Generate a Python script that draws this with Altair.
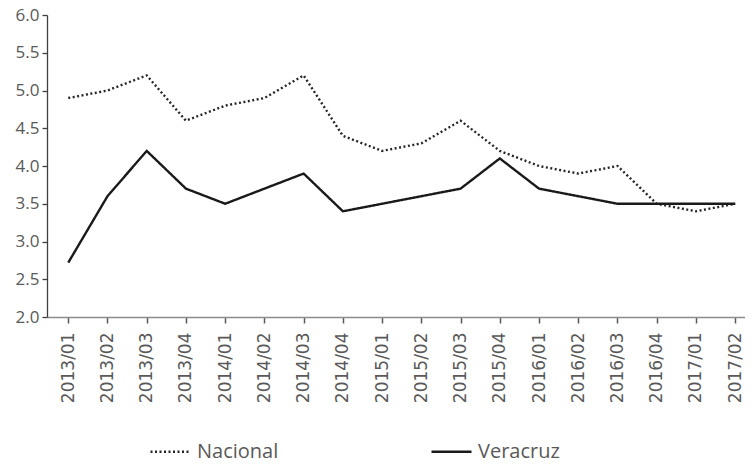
import altair as alt
import pandas as pd

periods = ["2013/01", "2013/02", "2013/03", "2013/04", "2014/01", "2014/02",
           "2014/03", "2014/04", "2015/01", "2015/02", "2015/03", "2015/04",
           "2016/01", "2016/02", "2016/03", "2016/04", "2017/01", "2017/02"]
nacional = [4.9, 5.0, 5.2, 4.6, 4.8, 4.9, 5.2, 4.4, 4.2, 4.3, 4.6, 4.2,
            4.0, 3.9, 4.0, 3.5, 3.4, 3.5]
veracruz = [2.72, 3.6, 4.2, 3.7, 3.5, 3.7, 3.9, 3.4, 3.5, 3.6, 3.7, 4.1,
            3.7, 3.6, 3.5, 3.5, 3.5, 3.5]
series_names = ["Nacional", "Veracruz"]
y_ticks = [2.0, 2.5, 3.0, 3.5, 4.0, 4.5, 5.0, 5.5, 6.0]

rows = []
for i, p in enumerate(periods):
    rows.append({"idx": i, "periodo": p, "serie": "Nacional", "valor": nacional[i]})
    rows.append({"idx": i, "periodo": p, "serie": "Veracruz", "valor": veracruz[i]})
df = pd.DataFrame(rows)

label_expr = "[" + ",".join("'" + p + "'" for p in periods) + "][datum.value]"

legend = alt.Legend(
    title=None, orient="none", direction="horizontal",
    legendX=102, legendY=415,
    symbolType="stroke", symbolSize=1600, symbolStrokeWidth=2.4,
    labelFont="Open Sans", labelFontSize=20, labelColor="#595959",
    labelOffset=5, columnPadding=147, padding=0,
)

chart = alt.Chart(df).mark_line(strokeWidth=2.4, strokeCap="butt").encode(
    x=alt.X("idx:Q",
            scale=alt.Scale(domain=[-0.542, 17.25], nice=False, zero=False),
            axis=alt.Axis(values=list(range(len(periods))), labelExpr=label_expr,
                          labelAngle=270, title=None, grid=False,
                          labelFont="DejaVu Sans", labelFontSize=17,
                          labelColor="#595959", labelPadding=9,
                          domainColor="#8c8c8c", tickColor="#595959",
                          tickSize=6, domainWidth=1.5, tickWidth=1.5)),
    y=alt.Y("valor:Q",
            scale=alt.Scale(domain=[2, 6], nice=False, zero=False),
            axis=alt.Axis(values=y_ticks, format=".1f", title=None, grid=False,
                          labelFont="Open Sans", labelFontSize=17,
                          labelColor="#595959", labelPadding=3,
                          domainColor="#404040", tickColor="#404040",
                          tickSize=5, domainWidth=1.3, tickWidth=1.3)),
    color=alt.Color("serie:N",
                    scale=alt.Scale(domain=series_names, range=["#262626", "#1a1a1a"]),
                    legend=legend),
    strokeDash=alt.StrokeDash("serie:N",
                              scale=alt.Scale(domain=series_names, range=[[2, 2.5], [1, 0]]),
                              legend=legend),
    order="idx:Q",
).properties(
    width=698, height=302,
    autosize=alt.AutoSizeParams(type="none"),
    padding={"left": 39, "top": 7, "right": 0, "bottom": 147},
).configure_view(stroke=None)

chart.save("out.html", embed_options={"renderer": "svg", "actions": False})
